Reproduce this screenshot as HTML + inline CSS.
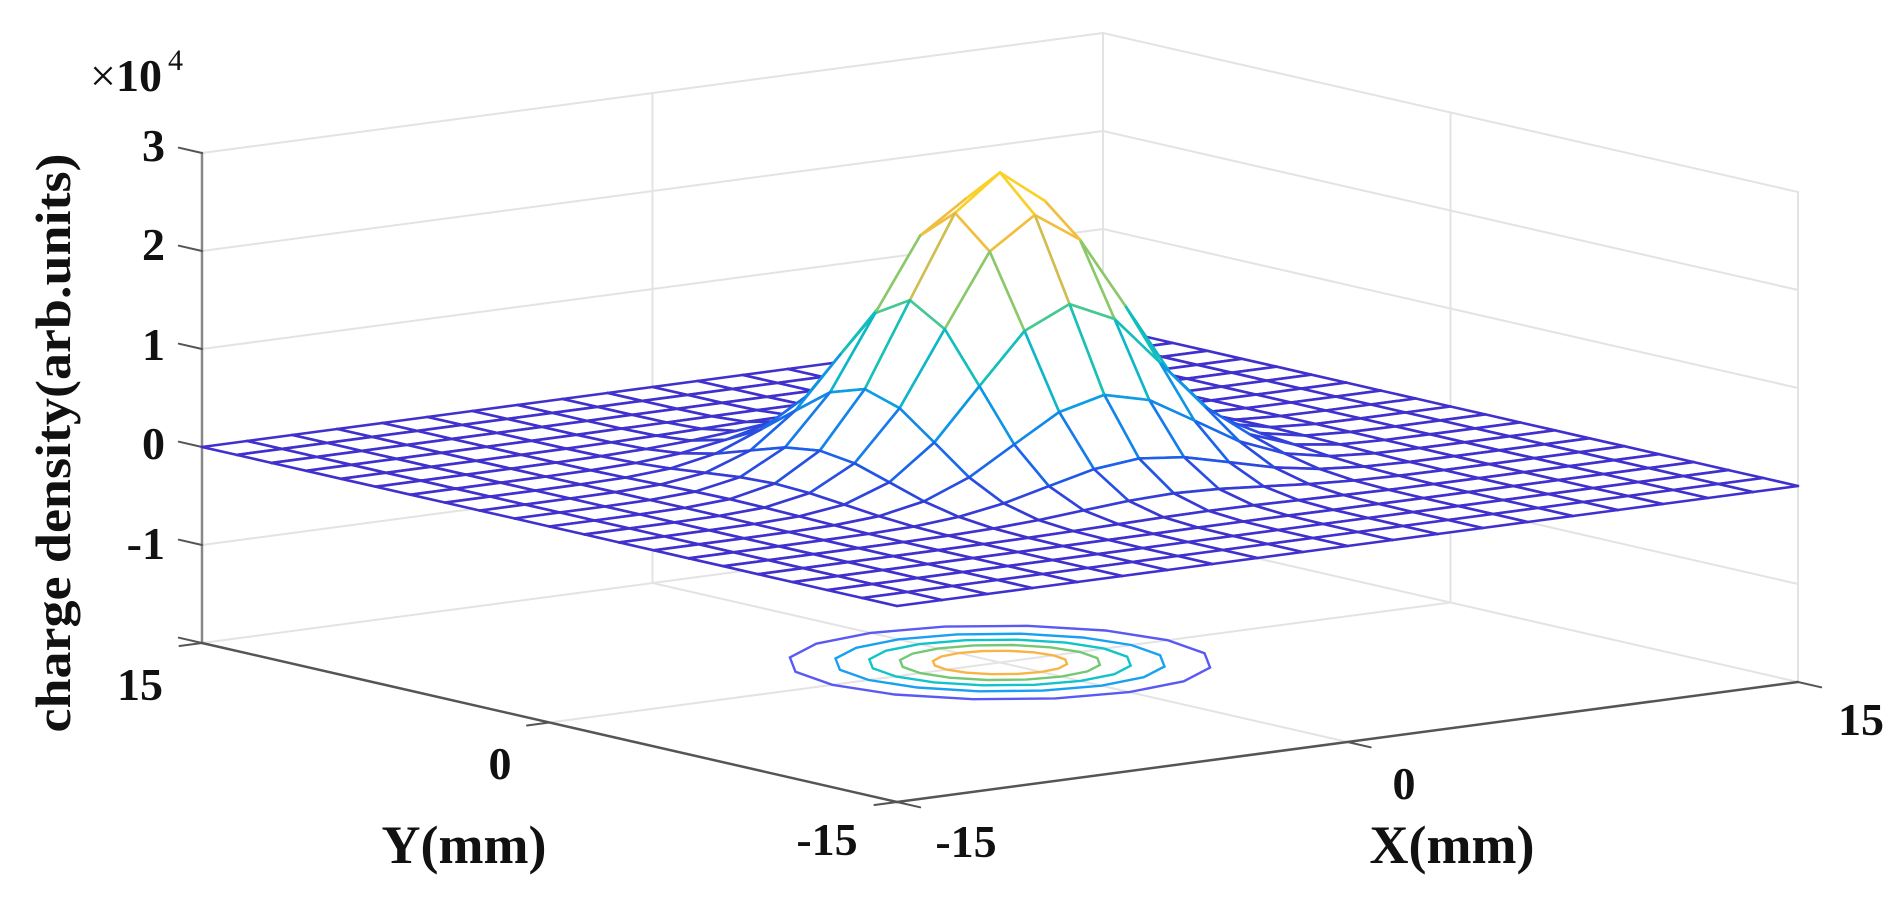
<!DOCTYPE html>
<html><head><meta charset="utf-8">
<style>
html,body{margin:0;padding:0;background:#fff;}
svg{display:block;}
text{font-family:"Liberation Serif",serif;font-weight:bold;fill:#111;}
</style></head>
<body>
<svg id="s" width="1904" height="903" viewBox="0 0 1904 903" xmlns="http://www.w3.org/2000/svg">
<g id="g"></g>
<text x="165" y="161" font-size="46" text-anchor="end">3</text>
<text x="165" y="260" font-size="46" text-anchor="end">2</text>
<text x="165" y="360" font-size="46" text-anchor="end">1</text>
<text x="165" y="459" font-size="46" text-anchor="end">0</text>
<text x="165" y="559" font-size="46" text-anchor="end">-1</text>
<text x="90" y="91" font-size="46" style="font-weight:normal">×<tspan style="font-weight:bold">10</tspan></text>
<text x="168" y="70" font-size="30" style="font-weight:normal">4</text>
<text x="140" y="700" font-size="46" text-anchor="middle">15</text>
<text x="500" y="779" font-size="46" text-anchor="middle">0</text>
<text x="827" y="855" font-size="46" text-anchor="middle">-15</text>
<text x="966" y="857" font-size="46" text-anchor="middle">-15</text>
<text x="1404" y="799" font-size="46" text-anchor="middle">0</text>
<text x="1861" y="735" font-size="46" text-anchor="middle">15</text>
<text x="464" y="863" font-size="54" text-anchor="middle">Y(mm)</text>
<text x="1452" y="863" font-size="54" text-anchor="middle">X(mm)</text>
<text transform="translate(70,443) rotate(-90)" font-size="50" text-anchor="middle" textLength="579" lengthAdjust="spacingAndGlyphs">charge density(arb.units)</text>
</svg>
<script>
(function(){
var F=[897,802],Xu=[901/30,-120/30],Yu=[-695/30,-159/30],Zu=98;
function P(x,y,z){return [F[0]+(x+15)*Xu[0]+(y+15)*Yu[0], F[1]+(x+15)*Xu[1]+(y+15)*Yu[1]-(z+2)*Zu];}
var stops=[[0,[64,48,205]],[0.11,[30,90,235]],[0.22,[20,130,235]],[0.33,[10,165,225]],[0.44,[15,190,190]],[0.56,[60,200,150]],[0.67,[150,200,100]],[0.78,[235,185,70]],[0.89,[250,195,50]],[1,[250,225,30]]];
function col(v){var t=Math.max(0,Math.min(1,v/3));for(var i=1;i<stops.length;i++){if(t<=stops[i][0]){var a=stops[i-1],b=stops[i],u=(t-a[0])/(b[0]-a[0]);var c=a[1].map(function(q,k){return Math.round(q+(b[1][k]-q)*u);});return 'rgb('+c.join(',')+')';}}return 'rgb(250,225,30)';}
var out=[];
function line(a,b,c,w){out.push('<line x1="'+a[0].toFixed(1)+'" y1="'+a[1].toFixed(1)+'" x2="'+b[0].toFixed(1)+'" y2="'+b[1].toFixed(1)+'" stroke="'+c+'" stroke-width="'+w+'" stroke-linecap="round"/>');}
var gc='#e3e3e3';
for(var z=-2;z<=3;z++){line(P(-15,15,z),P(15,15,z),gc,2);line(P(15,15,z),P(15,-15,z),gc,2);}
line(P(0,15,-2),P(0,15,3),gc,2);line(P(15,0,-2),P(15,0,3),gc,2);
line(P(15,15,-2),P(15,15,3),gc,2);line(P(15,-15,-2),P(15,-15,3),gc,2);
line(P(0,-15,-2),P(0,15,-2),gc,2);line(P(-15,0,-2),P(15,0,-2),gc,2);
var ac='#555';
line(P(-15,15,-2),P(-15,15,3),'#888',2.5);
line(P(-15,15,-2),P(-15,-15,-2),ac,2.5);
line(P(-15,-15,-2),P(15,-15,-2),ac,2.5);
for(var z=-2;z<=3;z++){line(P(-15,15,z),P(-15,16,z),ac,2);}
[15,0,-15].forEach(function(y){line(P(-15,y,-2),P(-15.75,y,-2),ac,2);});
[-15,0,15].forEach(function(x){line(P(x,-15,-2),P(x,-16,-2),ac,2);});
var s2=2.95,cc=['#5a5af2','#1aa0f0','#12c4c8','#74c874','#f8b444'];
[0.5,1,1.5,2,2.5].forEach(function(l,idx){var r=s2*Math.sqrt(2*Math.log(3/l));var pts=[];for(var i=0;i<16;i++){var a=i*Math.PI/8;var p=P(r*Math.cos(a),r*Math.sin(a),-2);pts.push(p[0].toFixed(1)+','+p[1].toFixed(1));}
out.push('<polygon points="'+pts.join(' ')+'" fill="none" stroke="'+cc[idx]+'" stroke-width="2.4"/>');});
var N=20,h=30/N,s=3.0;function f(x,y){return 3*Math.exp(-(x*x+y*y)/(2*s*s));}
var q=[];for(var i=0;i<N;i++)for(var j=0;j<N;j++){var x0=-15+i*h,y0=-15+j*h;q.push([x0,y0,23.17*(x0+h/2)+30*(y0+h/2)]);}
q.sort(function(a,b){return b[2]-a[2];});
q.forEach(function(c){var x0=c[0],y0=c[1],x1=x0+h,y1=y0+h;
var v=[[x0,y0],[x1,y0],[x1,y1],[x0,y1]].map(function(p){var z=f(p[0],p[1]);return {p:P(p[0],p[1],z),z:z};});
out.push('<polygon points="'+v.map(function(o){return o.p[0].toFixed(1)+','+o.p[1].toFixed(1);}).join(' ')+'" fill="#fff" stroke="none"/>');
for(var k=0;k<4;k++){var a=v[k],b=v[(k+1)%4];line(a.p,b.p,col((a.z+b.z)/2),2.6);}
});
document.getElementById('g').innerHTML=out.join('');
})();
</script>
</body></html>
